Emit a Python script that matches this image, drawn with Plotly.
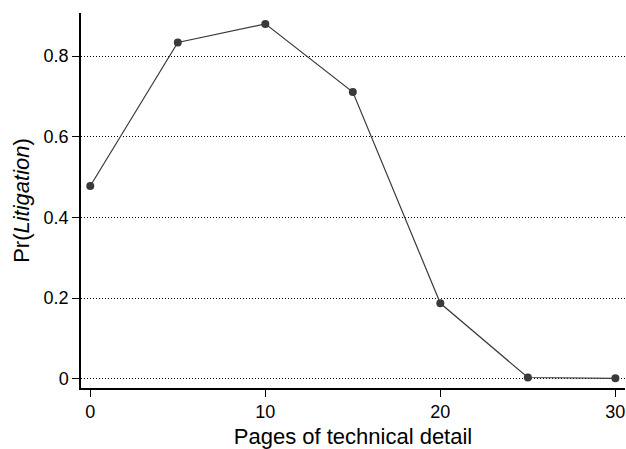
import plotly.graph_objects as go

pages = [0, 5, 10, 15, 20, 25, 30]
pr_litigation = [0.478, 0.834, 0.880, 0.711, 0.187, 0.003, 0.001]

x_ticks = [0, 10, 20, 30]
y_ticks = [0, 0.2, 0.4, 0.6, 0.8]
y_ticklabels = ["0", "0.2", "0.4", "0.6", "0.8"]

fig = go.Figure()
fig.add_trace(go.Scatter(
    x=pages, y=pr_litigation, mode="lines+markers",
    line=dict(color="#3a3a3a", width=1.2),
    marker=dict(color="#3a3a3a", size=8),
    showlegend=False,
    cliponaxis=False,
))

font = "Liberation Sans, Arial, Helvetica, sans-serif"
fig.update_layout(
    width=626, height=449,
    margin=dict(l=81, r=1, t=13, b=61),
    paper_bgcolor="white", plot_bgcolor="white",
    font=dict(family=font, size=18, color="black"),
)
fig.update_xaxes(
    range=[-0.53, 30.55], tickvals=x_ticks,
    showline=True, linecolor="black", linewidth=1.5,
    ticks="outside", ticklen=7, tickcolor="black", tickwidth=1,
    showgrid=False, zeroline=False,
    title=dict(text="Pages of technical detail", standoff=10),
)
fig.update_yaxes(
    range=[-0.023, 0.907], tickvals=y_ticks, ticktext=y_ticklabels,
    showline=True, linecolor="black", linewidth=1.5,
    ticks="outside", ticklen=7, tickcolor="black", tickwidth=1,
    showgrid=True, gridcolor="black", gridwidth=1, griddash="1px,2px",
    zeroline=False,
    title=dict(text="Pr(<i>Litigation</i>)", standoff=8),
)
fig.write_html(
    "out.html",
    config={"displayModeBar": False},
    post_script="document.body.style.margin='0';document.body.style.overflow='hidden';",
)
